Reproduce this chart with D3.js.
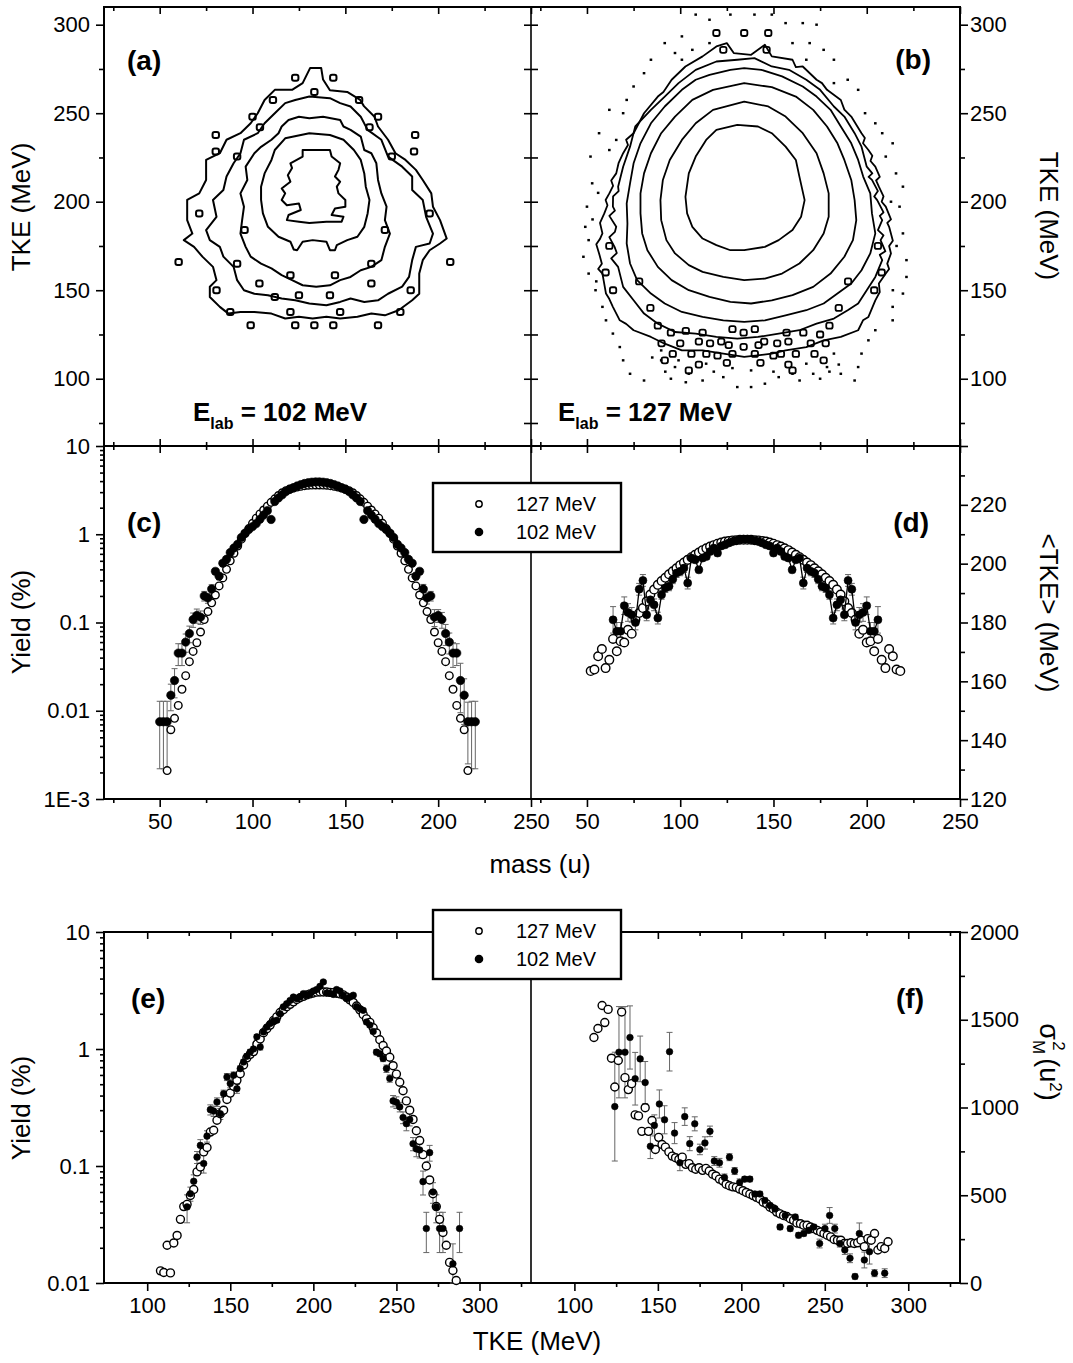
<!DOCTYPE html>
<html>
<head>
<meta charset="utf-8">
<script src="https://cdnjs.cloudflare.com/ajax/libs/d3/7.8.5/d3.min.js"></script>
<style>
  body { margin: 0; background: #fff; }
  svg text { font-family: "Liberation Sans", Arial, Helvetica, sans-serif; }
</style>
</head>
<body>
<svg id="fig" width="1073" height="1363"></svg>
<script>
// ---------- data ----------

// (a) contour lines, E_lab = 102 MeV, points are [mass, TKE]
let contA1 = [[131,275.5],[137,275.5],[138,269],[141.7,263],[151,262],[158,257.5],[160,254],[165.7,248],[167.6,242.5],[173,235],[177,227.4],[182.4,223.6],[188,218],[191.7,212.3],[196.3,204.7],[197.2,197.2],[201,189.6],[204.6,179.2],[201,176.4],[195.4,172.6],[191.7,167],[189.8,159.4],[189.8,148],[186,144.3],[178.7,138.7],[171.3,135.8],[164,136.8],[156.5,135],[147.2,134],[139.8,135],[132.4,134],[125,135],[117.6,134],[110.2,136.8],[101,137.7],[93.5,137.7],[87,136.8],[82.4,140.6],[77,146.2],[77,152],[80.6,155.7],[78.7,163.2],[73,169],[68.5,174.5],[63,178.3],[67.6,182],[64.8,189.6],[64.8,201],[71.3,204.7],[75,212.3],[75,223.6],[82.4,227.4],[86,235],[93.5,238.7],[99,244.3],[102.8,250],[106.5,257.5],[112,263.2],[121.3,263.2],[127,267]];
let contA15 = [[123,257.5],[130.6,259.4],[141.7,258.5],[147.2,255.7],[152.8,253.8],[158.3,248],[162,240.6],[169.4,235],[173,225.5],[180.6,219.8],[186,214.2],[186,206.6],[191.7,201],[193.5,191.5],[197.2,182],[195.4,176.4],[188,174.5],[186,167],[184.3,157.5],[180.6,152],[173,148],[167.6,144.3],[160.2,143.4],[152.8,145.3],[147.2,143.4],[139.8,141.5],[130.6,142.5],[123,144.3],[115.7,145.3],[108.3,147.2],[101,148],[95.4,150],[91.7,155.7],[89.8,163.2],[84.3,169],[82.4,174.5],[77,178.3],[75,184],[80.6,191.5],[78.7,201],[84.3,206.6],[86,214.2],[89.8,221.7],[93.5,227.4],[95.4,235],[102.8,238.7],[106.5,244.3],[112,250],[117.6,255.7]];
let contA2 = [[119.4,246.2],[125,248],[130.6,247.2],[138,248],[147.2,246.2],[149,242.5],[152.8,240.6],[158.3,236.8],[160.2,229.2],[164,227.4],[166.7,221.7],[167.6,212.3],[169.4,204.7],[172.2,197.2],[171.3,189.6],[174,182],[171.3,174.5],[169.4,167],[164,163.2],[158.3,161.3],[152.8,157.5],[147.2,155.7],[141.7,152.8],[134.3,152],[127,152.8],[121.3,155.7],[115.7,158.5],[110.2,162.3],[104.6,165],[99,169],[96.3,174.5],[93.5,182],[94.4,189.6],[95.4,197.2],[93.5,204.7],[97.2,212.3],[96.3,219.8],[101,227.4],[104.6,231],[110.2,235],[114,238.7],[115.7,242.5]];
let contA3 = [[117.6,235.8],[130.6,238.7],[141.7,237.7],[149,235],[154.6,229.2],[158.3,223.6],[160.2,216],[161,208.5],[163,201],[162,193.4],[160.2,185.8],[156.5,180.2],[151,178.3],[145.4,175.5],[144.4,172.6],[141.7,172.6],[139.8,177.4],[132.4,178.3],[127,177.4],[124,172.6],[122.2,173],[120.4,177.4],[114,180.2],[108.3,185.8],[105.6,193.4],[104.6,201],[104.6,208.5],[106.5,216],[110.2,223.6],[112,229.2]];
let contA4 = [[127,229.2],[141.7,229.2],[142.6,225.5],[147.2,221.7],[146.3,218],[144.4,214.2],[147.2,211.3],[145.4,208.5],[146.3,204.7],[150,201],[150,197.2],[144.4,196.2],[142.6,192.5],[149,191.5],[148,188.7],[139.8,188.7],[130.6,188],[125,188.7],[118.5,189.6],[119.4,192.5],[126,195.3],[125,199],[118.5,198],[115.7,201],[117.6,204.7],[115.7,207.5],[120.4,211.3],[119,215],[121.3,219],[120.4,221.7],[127,225.5]];
let islandsA = [[123,270],[143.5,270],[133.3,262],[111,257.5],[157.4,257.5],[100,248],[167.6,248],[104,242],[163,242],[80.2,237.7],[187.6,237.7],[80.2,228.3],[187,228.3],[91.7,225.5],[175,225.5],[95.7,184],[171.3,184],[71.3,193.4],[195.4,193.4],[91.7,165],[164,165],[112,146.2],[125,147.2],[141.7,147.2],[80.6,150],[185.2,150],[88,137.7],[179.6,137.7],[120.4,137.7],[147.2,137.7],[99,130.2],[123,130.2],[133.3,130.2],[143.5,130.2],[167.6,130.2],[120.4,158.5],[144.4,158.5],[103.7,153.8],[164,153.8],[60.2,166],[206.5,166]];

// (b) contour lines, E_lab = 127 MeV
let contB1 = [[119.4,287.7],[125,289.6],[128.7,284],[138,283],[145.4,288.7],[149.1,282.1],[160.2,280.2],[162,276],[165.7,276.4],[173.1,268.9],[176,267],[178.7,263.2],[186.1,257.5],[188,252],[191.7,248.1],[197.2,238.7],[199,236],[198,233],[200.9,229.2],[203,226],[202,223],[204.6,219.8],[207,214],[205,212],[206.5,208.5],[209,203],[208,200],[210.2,197.2],[213,190],[211,188],[212,185.8],[214,178],[212,175],[213,170.8],[211,165],[212,162],[210.2,159.4],[206.5,153.8],[207,149],[204.6,144.3],[200.9,134.9],[198,133],[195.4,127.4],[186.1,123.6],[176.9,121.7],[167.6,117.9],[156.5,116],[149.1,114.2],[134.3,112.3],[123.1,114.2],[112,116],[100.9,116],[91.7,119.8],[84.3,123.6],[75,127.4],[71,131],[67.6,133],[63.9,140.6],[62,145],[60.2,148.1],[58.3,159.4],[56,162],[58,165],[56.5,170.8],[55,176],[57,179],[58.3,182.1],[57,188],[59.3,193.4],[61,198],[60,201],[62,204.7],[64,209],[63,212],[65.7,216],[67,222],[69.4,227.4],[72,232],[71,235],[75,238.7],[80.6,250],[88,259.4],[91,262],[95.4,268.9],[102.8,276.4],[112,282.1]];
let contB15 = [[119.4,279.2],[130.6,280.2],[139.8,281.1],[149.1,276.4],[158.3,274.5],[167.6,268.9],[175,263.2],[182.4,253.8],[188,248.1],[193.5,238.7],[197.2,231.1],[200,219.8],[203,216],[201,214],[202.8,212.3],[206,206],[204,203],[205.6,200.9],[209,194],[207,192],[208.3,189.6],[206,184],[209,181],[207.4,178.3],[210,172],[207,170],[208.3,167],[204.6,157.5],[200,150],[195.4,142.5],[189.8,138.7],[182.4,134],[173.1,131.1],[163.9,127.4],[152.8,125.5],[141.7,123.6],[130.6,122.6],[119.4,123.6],[108.3,125.5],[97.2,126.4],[88,131.1],[80.6,136.8],[75,144.3],[69.4,151.9],[66.7,163.2],[63,168],[66,171],[64.8,174.5],[62,180],[65,183],[65.7,185.8],[62,192],[65,195],[63.9,197.2],[64,203],[67,206],[66.7,208.5],[69.4,219.8],[73.1,231.1],[75.9,242.5],[84.3,251.9],[91.7,259.4],[99.1,267],[108.3,274.5]];
let contB2 = [[115.7,271.7],[126.9,274.5],[134.3,275.5],[143.5,274.5],[154.6,270.8],[165.7,265.1],[173.1,259.4],[180.6,251.9],[186.1,242.5],[191.7,233],[195.4,223.6],[198.1,214.2],[201.9,204.7],[202.8,193.4],[204.6,182.1],[201.9,170.8],[197.2,161.3],[191.7,153.8],[184.3,148.1],[176.9,142.5],[167.6,138.7],[156.5,135.8],[145.4,133],[134.3,132.1],[123.1,133],[112,134.9],[100.9,137.7],[91.7,142.5],[84.3,148.1],[76.9,155.7],[73.1,165.1],[71.3,176.4],[71.7,187.7],[71.3,199.1],[73.1,210.4],[75,221.7],[78.7,233],[84.3,244.3],[91.7,253.8],[100.9,263.2],[108.3,268.9]];
let contB3 = [[117.6,263.2],[134.3,267],[149.1,264.7],[162,259.4],[171.3,251.9],[178.7,242.5],[184.3,233],[188,223.6],[191.7,212.3],[193.5,200.9],[194.4,189.6],[192.6,178.3],[188,168.9],[180.6,159.4],[171.3,151.9],[160.2,147.2],[149.1,144.3],[138,142.5],[126.9,143.4],[115.7,146.2],[104.6,150],[95.4,155.7],[88,163.2],[82.4,172.6],[79.6,182.1],[78.7,193.4],[78.7,204.7],[80.6,216],[84.3,227.4],[89.8,238.7],[97.2,248.1],[106.5,257.5]];
let contB4 = [[117.6,251.9],[134.3,256.6],[147.2,253.8],[156.5,248.1],[165.7,238.7],[173.1,227.4],[176.9,216],[179.6,204.7],[179.6,191.5],[176.9,182.1],[171.3,172.6],[163.9,165.1],[154.6,159.4],[145.4,156.6],[134.3,155.7],[123.1,157.5],[112,160.4],[104.6,164.2],[97.2,170.8],[92.6,178.3],[89.8,189.6],[89.4,200.9],[90.7,212.3],[94.4,223.6],[100.9,234.9],[108.3,244.3]];
let contB5 = [[119.4,240.6],[130.6,243.4],[141.7,242.5],[149.1,238.7],[156.5,231.1],[162,223.6],[163.9,214.2],[166.7,200.9],[164.8,191.5],[160.2,184],[152.8,178.3],[145.4,174.5],[134.3,172.6],[126.9,172.6],[119.4,175.5],[112,179.2],[106.5,185.8],[103.7,193.4],[102.8,202.8],[104.6,216],[108.3,225.5],[113.9,234.9]];
let dotsB = [[108.3,305.7],[115.7,302.8],[126.9,305.7],[139.8,305.7],[149.1,305.7],[156.5,300.9],[165.7,300.9],[173.1,300],[100.9,293.4],[91.7,289.6],[97.2,284],[106.5,285.8],[115.7,289.6],[160.2,289.6],[169.4,289.6],[176.9,285.8],[182.4,280.2],[84.3,280.2],[100.9,280.2],[167.6,280.2],
  [80.6,272.6],[75,265.1],[71.3,257.5],[69.4,250],[62,251.9],[56.5,238.7],[65.7,234.9],[62,229.2],[51.9,225.5],[52.8,210.4],[50,197.2],[49.1,185.8],[50.9,178.3],[48.1,168.9],[50.9,159.4],[54.6,150],[58.3,140.6],[60.2,133],[63.9,125.5],[67.6,117.9],[69.4,110.4],[73.1,102.8],[80.6,99],
  [182.4,267],[189.8,268.9],[195.4,263.2],[199.1,250],[204.6,244.3],[208.3,238.7],[213.9,233],[210.2,225.5],[215.7,216],[219.4,208.5],[217.6,197.2],[219.4,182.1],[221.3,167],[221.3,157.5],[219.4,148.1],[213.9,140.6],[213.9,133],[204.6,127.4],[200.9,121.7],[197.2,114.2],[195.4,106.6],[193.5,99],[186.1,102.8],
  [89.8,110.4],[97.2,106.6],[104.6,102.8],[112,99],[123.1,100.9],[130.6,95.3],[138,95.3],[145.4,97.2],[152.8,100.9],[160.2,102.8],[171.3,102.8],[178.7,106.6],[182.4,114.2],[89.8,116],[99.1,110.4],[113.9,108.5],[138,104.7],[167.6,108.5],
  [85,112],[95,100],[103,98],[118,104],[128,106],[150,104],[164,99],[175,100],[185,108],[92,104],[180,104],[55,155],[53,190],[56,205],[214,150],[216,175],[213,200]];
let islandsB = [[134.3,295.3],[119.4,295.3],[147.2,295.3],[123.1,285.8],[146.3,285.8],[91.7,110.4],[104.6,104.7],[160.2,104.7],[176.9,110.4],[110,121],[122,121],[134,118],[145,121],[158,121],[120,113],[150,113],[134,126],[88,130],[180,130],[84,140],[185,140],[78,155],[190,155],
  [95,126],[103,127],[112,126],[128,128],[140,128],[157,126],[166,126],[175,125],[90,120],[100,120],[116,120],[126,119],[142,119],[152,120],[170,120],[178,120],[96,114],[106,114],[114,114],[128,114],[140,114],[154,114],[162,114],[172,114],[110,108],[125,109],[143,109],[158,108],[60,160],[62,175],[208,160],[206,175],[64,150],[204,150]];

// (c) mass yield
let mass127c = [54,56,58,60,62,64,66,68,70,72,74,76,78,80,82,84,86,88,90,92,94,96,98,100,102,104,106,108,110,112,114,116,118,120,122,124,126,128,130,132,134,
  136,138,140,142,144,146,148,150,152,154,156,158,160,162,164,166,168,170,172,174,176,178,180,182,184,186,188,190,192,194,196,198,200,202,204,206,208,210,212,214,216];
let yield127c = [.0021,.0061,.0082,.0115,.0175,.025,.036,.047,.059,.078,.108,.133,.167,.205,.26,.32,.40,.50,.61,.735,.88,1.02,1.16,1.33,1.52,1.70,1.88,2.08,2.30,2.52,2.75,2.95,3.12,3.25,3.34,3.42,3.49,3.55,3.59,3.61,3.62,
  3.62,3.61,3.59,3.55,3.49,3.42,3.34,3.25,3.12,2.95,2.75,2.52,2.30,2.08,1.88,1.70,1.52,1.33,1.16,1.02,.88,.735,.61,.50,.40,.32,.26,.205,.167,.133,.108,.078,.059,.047,.036,.025,.0175,.0115,.0082,.0061,.0021];
let mass102c = [50,52,54,56,58,60,62,64,66,68,70,72,74,76,78,80,82,84,86,88,90,92,94,96,98,100,102,104,106,108,110,112,114,116,118,120,122,124,126,128,130,132,134,
  136,138,140,142,144,146,148,150,152,154,156,158,160,162,164,166,168,170,172,174,176,178,180,182,184,186,188,190,192,194,196,198,200,202,204,206,208,210,212,214,216,218,220];
let yield102c = [.0075,.0075,.0075,.015,.022,.045,.045,.060,.075,.108,.12,.115,.20,.19,.24,.38,.335,.47,.52,.62,.70,.77,.92,1.03,1.13,1.22,1.32,1.48,1.65,1.85,1.47,2.35,2.58,2.80,3.05,3.22,3.36,3.52,3.65,3.76,3.84,3.89,3.92,
  3.92,3.89,3.84,3.76,3.65,3.52,3.36,3.22,3.05,2.80,2.58,2.35,1.47,1.85,1.65,1.48,1.32,1.22,1.13,1.03,.92,.77,.70,.62,.52,.47,.335,.38,.24,.19,.20,.115,.12,.108,.075,.060,.045,.045,.022,.015,.0075,.0075,.0075];
let err102c = [.0053,.0053,.0053,.005,.008,.0125,.0125,.014,.016,.02,.022,.02,.025,.025,.028,.03,.03,.03,.03,.03,.03,.03,.04,.04,.04,.04,.05,.05,.05,.05,.05,.06,.06,.06,.06,.06,.07,.07,.07,.07,.07,.07,.07,
  .07,.07,.07,.07,.07,.07,.07,.06,.06,.06,.06,.06,.05,.05,.05,.05,.05,.04,.04,.04,.04,.03,.03,.03,.03,.03,.03,.03,.03,.028,.025,.025,.02,.022,.02,.016,.014,.0125,.0125,.008,.005,.0053,.0053,.0053];

// (d) mean TKE vs mass
let mass127d = [52,54,56,58,60,62,64,66,68,70,72,74,76,78,80,82,84,86,88,90,92,94,96,98,100,102,104,106,108,110,112,114,116,118,120,122,124,126,128,130,132,134,
  136,138,140,142,144,146,148,150,152,154,156,158,160,162,164,166,168,170,172,174,176,178,180,182,184,186,188,190,192,194,196,198,200,202,204,206,208,210,212,214,216,218];
let tke127d = [163.5,164.0,168.5,171.0,164.5,167.3,174.4,170.2,173.6,173.2,177.5,176.2,181.0,183.2,184.9,187.2,189.5,191.2,192.8,194.1,195.2,196.4,197.4,198.4,199.5,200.4,201.3,202.2,203.0,203.8,204.6,205.2,205.8,206.3,206.8,207.2,207.5,207.7,207.9,208.0,208.1,208.1,
  208.1,208.1,208.0,207.9,207.7,207.5,207.2,206.8,206.3,205.8,205.2,204.6,203.8,203.0,202.2,201.3,200.4,199.5,198.4,197.4,196.4,195.2,194.1,192.8,191.2,189.5,187.2,184.9,183.2,181.0,176.2,177.5,173.2,173.6,170.2,174.4,167.3,164.5,171.0,168.5,164.0,163.5];
let mass102d = [64,66,68,70,72,74,76,78,80,82,84,86,88,90,92,94,96,98,100,102,104,106,108,110,112,114,116,118,120,122,124,126,128,130,132,134,
  136,138,140,142,144,146,148,150,152,154,156,158,160,162,164,166,168,170,172,174,176,178,180,182,184,186,188,190,192,194,196,198,200,202,204,206];
let tke102d = [180.9,177.0,177.0,185.7,183.4,182.6,180.0,191.3,194.3,182.6,187.7,186.0,181.5,189.4,191.7,192.3,194.7,196.8,197.4,198.5,193.4,201.9,201.3,197.9,201.9,202.4,204.1,205.3,203.6,206.0,206.4,207.0,207.5,207.9,208.1,208.3,
  208.3,208.1,207.9,207.5,207.0,206.4,206.0,203.6,205.3,204.1,202.4,201.9,197.9,201.3,201.9,193.4,198.5,197.4,196.8,194.7,192.3,191.7,189.4,181.5,186.0,187.7,182.6,194.3,191.3,180.0,182.6,183.4,185.7,177.0,177.0,180.9];
let err102d = [4.5,3,3,3,3,2.5,2.5,2,2,2,2,2,2,1.5,1.5,1.5,1.5,1.5,1.5,1.5,2,1,1,1,1,1,1,1,1,1,1,1,1,1,1,1,
  1,1,1,1,1,1,1,1,1,1,1,1,1,1,1,2,1.5,1.5,1.5,1.5,1.5,1.5,1.5,2,2,2,2,2,2,2.5,2.5,3,3,3,3,4.5];

// (e) TKE yield
let tke127e = [108,110,112,114,116,118,120,122,124,126,128,130,132,134,136,138,140,142,144,146,148,150,152,154,156,158,160,162,164,166,168,170,172,174,176,178,180,182,184,186,188,190,192,194,196,198,200,202,204,206,208,210,212,214,216,218,220,222,224,226,228,230,232,234,236,238,240,242,244,246,248,250,252,254,256,258,260,262,264,266,268,270,272,274,276,278,280,282,284,286];
let yield127e = [.0127,.0123,.021,.0122,.022,.0255,.035,.045,.047,.056,.063,.089,.098,.132,.144,.195,.202,.246,.28,.30,.37,.42,.48,.54,.615,.73,.84,.90,.95,1.10,1.22,1.38,1.49,1.60,1.75,1.88,2.05,2.17,2.30,2.41,2.53,2.65,2.74,2.82,2.90,2.96,3.01,3.06,3.07,3.07,3.07,3.05,3.03,3.00,2.96,2.90,2.78,2.63,2.50,2.33,2.16,1.97,1.81,1.69,1.52,1.37,1.20,1.07,.96,.85,.72,.61,.52,.44,.36,.30,.25,.20,.165,.125,.10,.076,.058,.045,.035,.027,.021,.015,.0128,.0105];
// [TKE, yield, error]
let pts102e = [[124,.0447,.012],[126,.058,.008],[128,.074,.01],[130,.119,.014],[132,.150,.018],[134,.105,.018],[136,.18,.02],[138,.303,.03],[140,.295,.03],[142,.352,.03],[144,.28,.03],[146,.415,.03],[148,.577,.04],[150,.506,.04],[152,.596,.04],[154,.458,.04],[156,.679,.04],[158,.774,.04],[160,.865,.05],[162,.942,.05],[164,1.0,.05],[166,1.27,.06],[168,1.04,.06],[170,1.40,.06],[172,1.54,.06],[174,1.65,.07],[176,1.73,.07],[178,1.76,.07],[180,2.0,.07],[182,2.29,.08],[184,2.44,.08],[186,2.6,.08],[188,2.78,.08],[190,2.69,.08],[192,2.78,.08],[194,2.97,.09],[196,2.88,.09],[198,2.97,.09],[200,3.13,.09],[202,3.22,.09],[204,3.43,.1],[206,3.74,.1],[208,3.01,.09],[210,3.0,.09],[212,2.93,.09],[214,3.22,.09],[216,3.13,.09],[218,2.88,.09],[220,2.69,.08],[222,2.78,.08],[224,2.88,.08],[226,2.31,.08],[228,2.21,.08],[230,2.14,.07],[232,1.70,.07],[234,1.60,.07],[236,1.41,.06],[238,.94,.05],[240,.91,.05],[242,.83,.05],[244,.68,.05],[246,.56,.04],[248,.36,.04],[250,.35,.04],[252,.32,.03],[254,.26,.03],[256,.23,.03],[258,.25,.03],[260,.155,.02],[262,.14,.02],[264,.137,.02],[266,.0735,.017],[268,.0292,.011],[270,.13,.02],[272,.06,.012],[274,.0447,.012],[276,.0292,.011],[278,.0292,.011],[284,.0146,.007],[288,.0292,.011]];

// (f) mass variance vs TKE
let pts127f = [[111.7,1399],[114.1,1450],[116.6,1581],[118.2,1484],[120.2,1559],[122.2,1281],[124.2,1117],[126.3,1268],[128.3,1544],[130.3,1170],[132.3,1102],[134.3,1136],[136.4,958],[138.4,952],[140.4,864],[142.4,999],[144.4,864],[146.5,926],[148.5,761],[150.5,830],[152.5,789],[154.5,774],[156.6,747],[158.6,723],[160.6,714],[162.6,704],[164.6,717],[166.7,676],[168.7,680],[170.7,657],[172.7,648],[174.7,657],[176.8,642],[178.8,653],[180.8,638],[182.8,620],[184.8,610],[186.9,592],[188.9,582],[190.9,563],[192.9,554],[194.9,548],[197,545],[199,535],[201,526],[203,516],[205.1,507],[207.1,498],[209.1,488],[211.1,479],[213.1,460],[215.2,451],[217.2,432],[219.2,422],[221.2,404],[223.2,394],[225.3,385],[227.3,379],[229.3,366],[231.3,357],[233.3,342],[235.4,338],[237.4,329],[239.4,329],[241.4,319],[243.4,310],[245.5,300],[247.5,291],[249.5,282],[251.5,272],[253.5,263],[255.6,248],[257.6,244],[259.6,244],[261.6,225],[263.6,225],[265.7,229],[267.7,225],[269.7,229],[271.7,244],[273.7,207],[275.8,253],[277.8,244],[279.8,282],[281.8,188],[283.8,207],[285.9,197],[287.9,235]];
let pts102f = [[124.2,1005,310],[126.7,1315,260],[130.3,1315,260],[133.3,1399,180],[136.4,1164,150],[139.4,1277,130],[142.4,1142,120],[145.5,779,70],[147.9,898,60],[150.9,1020,80],[154,930,80],[157,1318,110],[160,854,60],[163.2,685,45],[166.1,948,50],[169.1,794,40],[172.1,907,40],[175.2,761,30],[178.2,798,35],[181.2,864,30],[183.8,695,25],[186.9,685,25],[189.9,601,20],[192.9,717,20],[196,638,20],[199,573,20],[202,592,15],[205.1,592,15],[208.1,507,15],[211.1,507,15],[214.1,470,15],[217.2,441,15],[220.2,422,15],[223.2,319,15],[226.3,385,15],[229.3,310,15],[232.3,376,15],[234.3,272,15],[237.4,282,15],[240.4,300,15],[243.4,319,15],[246.9,225,25],[250.1,310,25],[252.9,385,45],[256,310,25],[259,225,20],[262,188,25],[265.1,141,25],[268.1,37,15],[270.7,282,60],[273.7,131,45],[276.8,178,70],[279.8,56,20],[285.9,56,25]];

// ticks
let massTicks = [50, 100, 150, 200, 250];
let massMinor = [25, 75, 125, 175, 225];
let tkeTicksA = [100, 150, 200, 250, 300];
let tkeMinorA = [75, 125, 175, 225, 275];
let yieldTicksC = [0.001, 0.01, 0.1, 1, 10];
let yieldLabelsC = ["1E-3", "0.01", "0.1", "1", "10"];
let yieldTicksE = [0.01, 0.1, 1, 10];
let yieldLabelsE = ["0.01", "0.1", "1", "10"];
let tkeTicksD = [120, 140, 160, 180, 200, 220, 240];
let tkeMinorD = [130, 150, 170, 190, 210, 230];
let tkeTicksE = [100, 150, 200, 250, 300];
let tkeMinorE = [125, 175, 225, 275, 325];
let sigTicks = [0, 500, 1000, 1500, 2000];
let sigMinor = [250, 750, 1250, 1750];
let legendLabels = ["127 MeV", "102 MeV"];

// ---------- layout ----------
const X0 = 104, XM = 531, X1 = 960;
const Y0 = 7, Y1 = 446, Y2 = 799, Y3 = 932, Y4 = 1283;

let svg = d3.select("#fig");
svg.append("rect").attr("width", 1073).attr("height", 1363).attr("fill", "#fff");

let xMassA = d3.scaleLinear().domain([20, 250]).range([X0, XM]);
let xMassB = d3.scaleLinear().domain([20, 250]).range([XM, X1]);
let yTke = d3.scaleLinear().domain([62, 310]).range([Y1, Y0]);
let yYieldC = d3.scaleLog().domain([1e-3, 10]).range([Y2, Y1]);
let yTkeD = d3.scaleLinear().domain([120, 240]).range([Y2, Y1]);
let xTkeE = d3.scaleLinear().domain([74, 331]).range([X0, XM]);
let xTkeF = d3.scaleLinear().domain([74, 331]).range([XM, X1]);
let yYieldE = d3.scaleLog().domain([0.01, 10]).range([Y4, Y3]);
let ySigF = d3.scaleLinear().domain([0, 2000]).range([Y4, Y3]);

function logMinor(lo, hi) {
    let out = [];
    for (let p = lo; p < hi; p *= 10)
        for (let k = 2; k < 10; k++) out.push(p * k);
    return out;
}

function axis(gen, scale, vals, tx, ty, size, fmt, pad) {
    let a = gen(scale).tickValues(vals).tickSize(size)
        .tickPadding(pad === undefined ? 6 : pad)
        .tickFormat(fmt ? fmt : () => "");
    let g = svg.append("g").attr("transform", "translate(" + tx + "," + ty + ")").call(a);
    g.select(".domain").remove();
    g.attr("font-size", 22).attr("font-family", null);
    g.selectAll("line").attr("stroke", "#000").attr("stroke-width", 1.6);
    g.selectAll("text").attr("fill", "#000");
    return g;
}

// ----- top row (a) (b) -----
axis(d3.axisLeft, yTke, tkeTicksA, X0, 0, 8, d => d, 6);
axis(d3.axisLeft, yTke, tkeMinorA, X0, 0, 5);
axis(d3.axisRight, yTke, tkeTicksA, X1, 0, 8, d => d, 2);
axis(d3.axisRight, yTke, tkeMinorA, X1, 0, 5);
[xMassA, xMassB].forEach(s => {
    axis(d3.axisTop, s, massTicks, 0, Y0, -7);
    axis(d3.axisTop, s, massMinor, 0, Y0, -4);
    // shared border between rows: ticks cross it
    axis(d3.axisTop, s, massTicks, 0, Y1, 7);
    axis(d3.axisBottom, s, massTicks, 0, Y1, 7);
    axis(d3.axisTop, s, massMinor, 0, Y1, 4);
    axis(d3.axisBottom, s, massMinor, 0, Y1, 4);
});
axis(d3.axisLeft, yTke, tkeTicksA.concat(tkeMinorA), XM, 0, 7);
axis(d3.axisRight, yTke, tkeTicksA.concat(tkeMinorA), XM, 0, 7);

// ----- middle row (c) (d) -----
axis(d3.axisLeft, yYieldC, yieldTicksC, X0, 0, 8, (d, i) => yieldLabelsC[i], 6);
axis(d3.axisLeft, yYieldC, logMinor(1e-3, 10), X0, 0, 4);
axis(d3.axisBottom, xMassA, massTicks, 0, Y2, 8, d => d, 6);
axis(d3.axisBottom, xMassA, massMinor, 0, Y2, 4);
axis(d3.axisBottom, xMassB, massTicks, 0, Y2, 8, d => d, 6);
axis(d3.axisBottom, xMassB, massMinor, 0, Y2, 4);
axis(d3.axisRight, yTkeD, tkeTicksD, X1, 0, 8, d => d === 240 ? "" : d, 2);
axis(d3.axisRight, yTkeD, tkeMinorD, X1, 0, 5);

// ----- bottom row (e) (f) -----
axis(d3.axisLeft, yYieldE, yieldTicksE, X0, 0, 8, (d, i) => yieldLabelsE[i], 6);
axis(d3.axisLeft, yYieldE, logMinor(0.01, 10), X0, 0, 4);
[xTkeE, xTkeF].forEach(s => {
    axis(d3.axisBottom, s, tkeTicksE, 0, Y4, 8, d => d, 6);
    axis(d3.axisBottom, s, tkeMinorE, 0, Y4, 4);
    axis(d3.axisTop, s, tkeTicksE, 0, Y3, -7);
    axis(d3.axisTop, s, tkeMinorE, 0, Y3, -4);
});
axis(d3.axisRight, ySigF, sigTicks, X1, 0, 8, d => d, 2);
axis(d3.axisRight, ySigF, sigMinor, X1, 0, 5);

// frames
let frame = svg.append("g").attr("fill", "none").attr("stroke", "#000").attr("stroke-width", 2);
frame.append("rect").attr("x", X0).attr("y", Y0).attr("width", X1 - X0).attr("height", Y2 - Y0);
frame.append("line").attr("x1", X0).attr("x2", X1).attr("y1", Y1).attr("y2", Y1);
frame.append("line").attr("x1", XM).attr("x2", XM).attr("y1", Y0).attr("y2", Y2).attr("stroke-width", 1.6);
frame.append("rect").attr("x", X0).attr("y", Y3).attr("width", X1 - X0).attr("height", Y4 - Y3);
frame.append("line").attr("x1", XM).attr("x2", XM).attr("y1", Y3).attr("y2", Y4).attr("stroke-width", 1.6);

// ----- contours -----
function contours(rings, islands, dots, xs, ys, sw) {
    let g = svg.append("g").attr("fill", "none").attr("stroke", "#000")
        .attr("stroke-width", sw).attr("stroke-linejoin", "round");
    let ln = d3.line().x(d => xs(d[0])).y(d => ys(d[1])).curve(d3.curveLinearClosed);
    g.selectAll("path.ring").data(rings).enter().append("path").attr("class", "ring").attr("d", ln);
    // small closed islands of the histogram contour
    g.selectAll("rect").data(islands).enter().append("rect")
        .attr("x", d => xs(d[0]) - 3.2).attr("y", d => ys(d[1]) - 3)
        .attr("width", 6.4).attr("height", 6).attr("rx", 2);
    if (dots) {
        svg.append("g").selectAll("rect").data(dots).enter().append("rect")
            .attr("x", d => xs(d[0]) - 1.3).attr("y", d => ys(d[1]) - 1.2)
            .attr("width", 2.6).attr("height", 2.4).attr("fill", "#000");
    }
}
contours([contA1, contA15, contA2, contA3, contA4], islandsA, null, xMassA, yTke, 2);
contours([contB1, contB15, contB2, contB3, contB4, contB5], islandsB, dotsB, xMassB, yTke, 1.8);

// ----- scatter helpers -----
function errBars(data, xs, ys, lo) {
    let g = svg.append("g").attr("stroke", "#666").attr("stroke-width", 1);
    data.forEach(d => {
        if (!d[2]) return;
        let x = xs(d[0]);
        let yA = ys(Math.max(d[1] - d[2], lo)), yB = ys(d[1] + d[2]);
        g.append("line").attr("x1", x).attr("x2", x).attr("y1", yA).attr("y2", yB);
        g.append("line").attr("x1", x - 3).attr("x2", x + 3).attr("y1", yA).attr("y2", yA);
        g.append("line").attr("x1", x - 3).attr("x2", x + 3).attr("y1", yB).attr("y2", yB);
    });
}
function markers(data, xs, ys, open, r) {
    svg.append("g").selectAll("circle").data(data).enter().append("circle")
        .attr("cx", d => xs(d[0])).attr("cy", d => ys(d[1])).attr("r", r)
        .attr("fill", open ? "#fff" : "#000")
        .attr("stroke", "#000").attr("stroke-width", open ? 1.4 : 0.6);
}
let zip = (a, b, c) => a.map((v, i) => c ? [v, b[i], c[i]] : [v, b[i]]);

// (c)
let c102 = zip(mass102c, yield102c, err102c);
errBars(c102, xMassA, yYieldC, 1e-3);
markers(zip(mass127c, yield127c), xMassA, yYieldC, true, 3.8);
markers(c102, xMassA, yYieldC, false, 4.2);

// (d)
let d102 = zip(mass102d, tke102d, err102d);
errBars(d102, xMassB, yTkeD, 120);
markers(zip(mass127d, tke127d), xMassB, yTkeD, true, 4.3);
svg.append("path").datum(d102)
    .attr("d", d3.line().x(d => xMassB(d[0])).y(d => yTkeD(d[1])))
    .attr("fill", "none").attr("stroke", "#000").attr("stroke-width", 1.3);
markers(d102, xMassB, yTkeD, false, 4);

// (e)
errBars(pts102e, xTkeE, yYieldE, 0.01);
markers(zip(tke127e, yield127e), xTkeE, yYieldE, true, 4);
markers(pts102e, xTkeE, yYieldE, false, 3.3);

// (f)
errBars(pts102f, xTkeF, ySigF, 0);
markers(pts127f, xTkeF, ySigF, true, 4);
markers(pts102f, xTkeF, ySigF, false, 3.3);

// ----- legends -----
function legend(top) {
    let g = svg.append("g");
    g.append("rect").attr("x", 433).attr("y", top).attr("width", 188).attr("height", 69)
        .attr("fill", "#fff").attr("stroke", "#000").attr("stroke-width", 2.4);
    legendLabels.forEach((t, i) => {
        let cy = top + 21 + i * 28;
        g.append("circle").attr("cx", 479).attr("cy", cy).attr("r", i === 0 ? 3.2 : 3.6)
            .attr("fill", i === 0 ? "#fff" : "#000").attr("stroke", "#000").attr("stroke-width", 1.4);
        g.append("text").attr("x", 516).attr("y", cy + 7).attr("font-size", 20).text(t);
    });
}
legend(483);
legend(910);

// ----- text -----
function label(x, y, t, opts) {
    let el = svg.append("text").attr("x", x).attr("y", y).text(t)
        .attr("font-size", opts.size || 26);
    if (opts.bold) el.attr("font-weight", "bold");
    if (opts.anchor) el.attr("text-anchor", opts.anchor);
    if (opts.rot) el.attr("transform", "rotate(" + opts.rot + "," + x + "," + y + ")");
    return el;
}
label(127, 70, "(a)", {bold: true, size: 28});
label(931, 69, "(b)", {bold: true, size: 28, anchor: "end"});
label(127, 532, "(c)", {bold: true, size: 28});
label(929, 532, "(d)", {bold: true, size: 28, anchor: "end"});
label(131, 1008, "(e)", {bold: true, size: 28});
label(924, 1008, "(f)", {bold: true, size: 28, anchor: "end"});

function elab(x, y, rest) {
    let t = svg.append("text").attr("x", x).attr("y", y).attr("font-size", 26).attr("font-weight", "bold");
    t.append("tspan").text("E");
    t.append("tspan").attr("font-size", 16).attr("dy", 8).text("lab");
    t.append("tspan").attr("dy", -8).text(" = " + rest);
}
elab(193, 421, "102 MeV");
elab(558, 421, "127 MeV");

label(30, 207, "TKE (MeV)", {anchor: "middle", rot: -90});
label(30, 622, "Yield (%)", {anchor: "middle", rot: -90});
label(30, 1108, "Yield (%)", {anchor: "middle", rot: -90});
label(1040, 216, "TKE (MeV)", {anchor: "middle", rot: 90});
label(1040, 613, "<TKE> (MeV)", {anchor: "middle", rot: 90});
label(540, 873, "mass (u)", {anchor: "middle"});
label(537, 1350, "TKE (MeV)", {anchor: "middle"});

// sigma_M^2 (u^2)
let sg = svg.append("text").attr("x", 1040).attr("y", 1062).attr("font-size", 27)
    .attr("text-anchor", "middle").attr("transform", "rotate(90,1040,1062)");
sg.append("tspan").text("σ");
sg.append("tspan").attr("font-size", 17).attr("dy", 7).text("M");
sg.append("tspan").attr("font-size", 17).attr("dx", -13).attr("dy", -20).text("2");
sg.append("tspan").attr("dy", 13).text(" (u");
sg.append("tspan").attr("font-size", 17).attr("dy", -10).text("2");
sg.append("tspan").attr("dy", 10).text(")");
</script>
</body>
</html>
